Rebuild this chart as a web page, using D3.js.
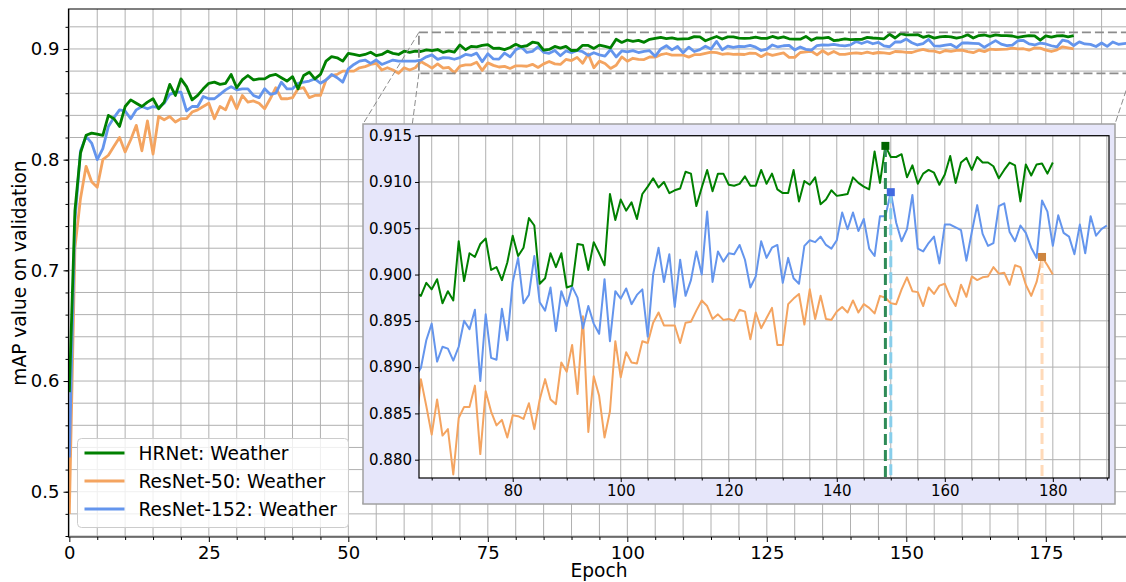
<!DOCTYPE html>
<meta charset="utf-8">
<title>mAP value on validation</title>
<style>
  body { margin: 0; background: #fff; }
  svg { display: block; font-family: "DejaVu Sans", sans-serif; }
</style>
<body>
<svg id="chart" width="1126" height="582"></svg>
<script src="https://d3js.org/d3.v7.min.js"></script>
<script>

// one value per epoch, starting at epoch 0
var hrnet = [
  0.590, 0.754, 0.806, 0.822, 0.824, 0.823, 0.822, 0.840, 0.837, 0.830,
  0.848, 0.854, 0.851, 0.848, 0.852, 0.855, 0.846, 0.852, 0.868, 0.858,
  0.873, 0.866, 0.854, 0.858, 0.864, 0.869, 0.870, 0.868, 0.869, 0.877,
  0.865, 0.872, 0.876, 0.872, 0.873, 0.873, 0.876, 0.877, 0.874, 0.871,
  0.875, 0.864, 0.876, 0.879, 0.873, 0.877, 0.889, 0.893, 0.892, 0.889,
  0.896, 0.895, 0.894, 0.895, 0.897, 0.894, 0.895, 0.898, 0.896, 0.895,
  0.898, 0.897, 0.898, 0.8977, 0.8991, 0.8984, 0.8995, 0.8969, 0.8982, 0.8972,
  0.9036, 0.8993, 0.9023, 0.9019, 0.9033, 0.9039, 0.9005, 0.9008, 0.8994, 0.9013,
  0.9042, 0.9020, 0.9029, 0.9061, 0.9053, 0.8990, 0.8996, 0.9023, 0.9008, 0.9023,
  0.8986, 0.8988, 0.9033, 0.9032, 0.9005, 0.9035, 0.9023, 0.9010, 0.9087, 0.9059,
  0.9081, 0.9069, 0.9078, 0.9060, 0.9087, 0.9095, 0.9104, 0.9094, 0.9100, 0.9088,
  0.9091, 0.9093, 0.9111, 0.9109, 0.9074, 0.9094, 0.9113, 0.9090, 0.9109, 0.9109,
  0.9097, 0.9096, 0.9098, 0.9106, 0.9096, 0.9096, 0.9113, 0.9098, 0.9109, 0.9092,
  0.9088, 0.9088, 0.9113, 0.9079, 0.9101, 0.9097, 0.9105, 0.9076, 0.9081, 0.9091,
  0.9085, 0.9086, 0.9087, 0.9105, 0.9099, 0.9095, 0.9092, 0.9133, 0.9099, 0.9139,
  0.9127, 0.9127, 0.9130, 0.9105, 0.9118, 0.9098, 0.9109, 0.9113, 0.9110, 0.9097,
  0.9108, 0.9128, 0.9099, 0.9121, 0.9126, 0.9113, 0.9127, 0.9121, 0.9121, 0.9117,
  0.9104, 0.9113, 0.9121, 0.9118, 0.9079, 0.9119, 0.9107, 0.9119, 0.9120, 0.9109,
  0.9121
];

var resnet50 = [
  0.480, 0.720, 0.765, 0.794, 0.780, 0.775, 0.800, 0.804, 0.812, 0.820,
  0.807, 0.818, 0.831, 0.808, 0.835, 0.805, 0.839, 0.836, 0.839, 0.834,
  0.837, 0.837, 0.843, 0.845, 0.848, 0.851, 0.837, 0.848, 0.845, 0.857,
  0.846, 0.858, 0.852, 0.853, 0.851, 0.846, 0.855, 0.865, 0.855, 0.855,
  0.856, 0.864, 0.865, 0.856, 0.858, 0.858, 0.872, 0.876, 0.877, 0.880,
  0.880, 0.880, 0.883, 0.884, 0.886, 0.887, 0.881, 0.883, 0.881, 0.878,
  0.883, 0.881, 0.883, 0.8887, 0.8858, 0.8827, 0.8865, 0.8826, 0.8833, 0.8784,
  0.8845, 0.8857, 0.8857, 0.8880, 0.8806, 0.8874, 0.8852, 0.8837, 0.8843, 0.8824,
  0.8848, 0.8847, 0.8844, 0.8861, 0.8833, 0.8865, 0.8887, 0.8865, 0.8860, 0.8905,
  0.8895, 0.8924, 0.8871, 0.8955, 0.8830, 0.8890, 0.8869, 0.8824, 0.8852, 0.8928,
  0.8889, 0.8916, 0.8905, 0.8904, 0.8928, 0.8926, 0.8948, 0.8959, 0.8945, 0.8945,
  0.8945, 0.8926, 0.8948, 0.8949, 0.8961, 0.8972, 0.8966, 0.8952, 0.8957, 0.8951,
  0.8952, 0.8950, 0.8962, 0.8960, 0.8930, 0.8959, 0.8942, 0.8953, 0.8964, 0.8924,
  0.8924, 0.8968, 0.8974, 0.8979, 0.8946, 0.8984, 0.8952, 0.8977, 0.8952, 0.8951,
  0.8960, 0.8965, 0.8959, 0.8972, 0.8959, 0.8968, 0.8964, 0.8958, 0.8977, 0.8975,
  0.8969, 0.8968, 0.8984, 0.8997, 0.8982, 0.8981, 0.8966, 0.8986, 0.8979, 0.8988,
  0.8990, 0.8976, 0.8966, 0.8989, 0.8976, 0.8998, 0.8994, 0.8997, 0.8998, 0.9008,
  0.9001, 0.9002, 0.8989, 0.9010, 0.9008, 0.8989, 0.8977, 0.8992, 0.9019, 0.9010,
  0.9000
];

var resnet152 = [
  0.531, 0.745, 0.808, 0.821, 0.815, 0.800, 0.810, 0.830, 0.838, 0.845,
  0.844, 0.837, 0.845, 0.848, 0.846, 0.848, 0.847, 0.851, 0.859, 0.861,
  0.861, 0.844, 0.848, 0.848, 0.857, 0.855, 0.855, 0.859, 0.863, 0.866,
  0.863, 0.864, 0.864, 0.858, 0.856, 0.864, 0.859, 0.860, 0.870, 0.864,
  0.864, 0.869, 0.870, 0.871, 0.873, 0.869, 0.872, 0.877, 0.874, 0.870,
  0.882, 0.886, 0.889, 0.890, 0.887, 0.890, 0.886, 0.888, 0.890, 0.889,
  0.889, 0.889, 0.889, 0.8899, 0.8929, 0.8947, 0.8906, 0.8922, 0.8920, 0.8907,
  0.8922, 0.8950, 0.8941, 0.8962, 0.8885, 0.8957, 0.8910, 0.8908, 0.8963, 0.8929,
  0.8992, 0.9018, 0.8969, 0.8978, 0.9020, 0.8970, 0.8961, 0.8986, 0.8939, 0.8982,
  0.8966, 0.8987, 0.8975, 0.8942, 0.8966, 0.8947, 0.8936, 0.8995, 0.8928, 0.8982,
  0.8974, 0.8985, 0.8968, 0.8978, 0.8984, 0.8933, 0.9000, 0.9029, 0.8992, 0.9022,
  0.8965, 0.9016, 0.8977, 0.8994, 0.9025, 0.9000, 0.9068, 0.8992, 0.9025, 0.9014,
  0.9023, 0.9022, 0.9032, 0.9016, 0.8986, 0.8998, 0.9036, 0.9018, 0.9029, 0.9032,
  0.8991, 0.9018, 0.8996, 0.8990, 0.9031, 0.9037, 0.9035, 0.9041, 0.9032, 0.9028,
  0.9037, 0.9067, 0.9049, 0.9067, 0.9047, 0.9060, 0.9028, 0.9020, 0.9063, 0.9063,
  0.9089, 0.9056, 0.9036, 0.9049, 0.9086, 0.9028, 0.9025, 0.9034, 0.9041, 0.9012,
  0.9054, 0.9054, 0.9051, 0.9048, 0.9015, 0.9046, 0.9075, 0.9044, 0.9031, 0.9034,
  0.9074, 0.9077, 0.9046, 0.9036, 0.9053, 0.9045, 0.9029, 0.9018, 0.9080, 0.9068,
  0.9031, 0.9064, 0.9045, 0.9041, 0.9022, 0.9054, 0.9023, 0.9063, 0.9042, 0.9049,
  0.9053
];

var seriesNames = ["HRNet: Weather", "ResNet-50: Weather", "ResNet-152: Weather"];
var seriesColors = ["green", "sandybrown", "cornflowerblue"];
var bestMarkerColors = ["darkgreen", "peru", "royalblue"];
var bestLineColors = ["seagreen", "peachpuff", "skyblue"];

var xTicks = [0, 25, 50, 75, 100, 125, 150, 175];
var yTicks = [0.5, 0.6, 0.7, 0.8, 0.9];
var insetXTicks = [80, 100, 120, 140, 160, 180];
var insetYTicks = [0.880, 0.885, 0.890, 0.895, 0.900, 0.905, 0.910, 0.915];
var insetXRange = [62.65, 190.4];
var insetYRange = [0.87802, 0.915];

var series = [hrnet, resnet50, resnet152].map(function (vals, k) {
  return { name: seriesNames[k], color: seriesColors[k], values: vals, k: k };
});

var svg = d3.select("#chart");
var font = "DejaVu Sans";
var labelSize = 18.6;

// ---------- main axes ----------
var x = d3.scaleLinear().domain([-0.15, 190]).range([68.5, 1129.5]);
var y = d3.scaleLinear().domain([0.4591, 0.9361]).range([537, 9]);

svg.append("clipPath").attr("id", "mainclip")
  .append("rect")
    .attr("x", x.range()[0]).attr("y", y.range()[1])
    .attr("width", x.range()[1] - x.range()[0])
    .attr("height", y.range()[0] - y.range()[1]);

var grid = svg.append("g").attr("clip-path", "url(#mainclip)");
grid.selectAll(".vg")
  .data(d3.range(0, 191, 5))
  .enter().append("line")
    .attr("x1", function (d) { return x(d); })
    .attr("x2", function (d) { return x(d); })
    .attr("y1", y.range()[0]).attr("y2", y.range()[1])
    .attr("stroke", "#b0b0b0").attr("stroke-width", 1);
grid.selectAll(".hg")
  .data(d3.range(0.46, 0.93, 0.02))
  .enter().append("line")
    .attr("y1", function (d) { return y(d); })
    .attr("y2", function (d) { return y(d); })
    .attr("x1", x.range()[0]).attr("x2", x.range()[1])
    .attr("stroke", "#b0b0b0").attr("stroke-width", 1);

var line = d3.line()
  .x(function (d, i) { return x(i); })
  .y(function (d) { return y(d); });

var lines = svg.append("g").attr("clip-path", "url(#mainclip)");
// draw order: orange, blue, green on top
[1, 2, 0].forEach(function (k) {
  lines.append("path")
    .attr("d", line(series[k].values))
    .attr("fill", "none")
    .attr("stroke", series[k].color)
    .attr("stroke-width", 2.8)
    .attr("stroke-linejoin", "round");
});

// ---------- inset geometry ----------
var ix = d3.scaleLinear().domain(insetXRange).range([419, 1109]);
var iy = d3.scaleLinear().domain(insetYRange).range([478, 135.7]);
var box = { x0: 363, y0: 124, x1: 1115, y1: 504 };

// zoom rectangle on main plot
var rx0 = x(insetXRange[0]), rx1 = x(insetXRange[1]);
var ry0 = y(insetYRange[1]), ry1 = y(insetYRange[0]);
svg.append("rect")
  .attr("x", rx0).attr("y", ry0)
  .attr("width", rx1 - rx0).attr("height", ry1 - ry0)
  .attr("fill", "none")
  .attr("stroke", "#8c8c8c").attr("stroke-width", 1.8)
  .attr("stroke-dasharray", "9,4");

// connectors
var conns = [
  [rx0, ry0, box.x0, box.y0],
  [rx0, ry1, box.x0, box.y1],
  [rx1, ry1, box.x1, box.y0]
];
svg.selectAll(".conn")
  .data(conns)
  .enter().append("line")
    .attr("x1", function (d) { return d[0]; })
    .attr("y1", function (d) { return d[1]; })
    .attr("x2", function (d) { return d[2]; })
    .attr("y2", function (d) { return d[3]; })
    .attr("stroke", "#8c8c8c").attr("stroke-width", 1)
    .attr("stroke-dasharray", "6,3");

// main ticks
function styleAxis(g, fs) {
  g.select(".domain").remove();
  g.selectAll(".tick line").attr("stroke", "#000").attr("stroke-width", 1);
  g.selectAll(".tick text")
    .attr("fill", "#000")
    .style("font-family", font)
    .style("font-size", fs + "px");
}

svg.append("g")
  .attr("transform", "translate(0," + y.range()[0] + ")")
  .call(d3.axisBottom(x).tickValues(xTicks).tickSize(5).tickPadding(4).tickFormat(d3.format("d")))
  .call(styleAxis, 18);
svg.append("g")
  .attr("transform", "translate(0," + y.range()[0] + ")")
  .call(d3.axisBottom(x).tickValues(d3.range(0, 191, 5).filter(function (d) { return d % 25; }))
    .tickSize(3).tickFormat(""))
  .call(styleAxis, 18);

svg.append("g")
  .attr("transform", "translate(" + x.range()[0] + ",0)")
  .call(d3.axisLeft(y).tickValues(yTicks).tickSize(5).tickPadding(4).tickFormat(d3.format(".1f")))
  .call(styleAxis, 18);
svg.append("g")
  .attr("transform", "translate(" + x.range()[0] + ",0)")
  .call(d3.axisLeft(y).tickValues(d3.range(0.46, 0.93, 0.02)).tickSize(3).tickFormat(""))
  .call(styleAxis, 18);

// spines
svg.append("path")
  .attr("d", "M" + x.range()[1] + "," + y.range()[1] + "H" + x.range()[0] + "V" + y.range()[0] + "H" + x.range()[1])
  .attr("fill", "none").attr("stroke", "#000").attr("stroke-width", 1.2);

svg.append("text")
  .attr("transform", "translate(19," + (y.range()[0] + y.range()[1]) / 2 + ") rotate(-90)")
  .attr("text-anchor", "middle").attr("dominant-baseline", "central")
  .style("font-size", labelSize + "px")
  .text("mAP value on validation");

svg.append("text")
  .attr("x", (x.range()[0] + x.range()[1]) / 2).attr("y", 577)
  .attr("text-anchor", "middle")
  .style("font-size", labelSize + "px")
  .text("Epoch");

// legend
var legend = svg.append("g").attr("transform", "translate(77.5,438.5)");
legend.append("rect")
  .attr("width", 271).attr("height", 89).attr("rx", 4)
  .attr("fill", "#fff").attr("fill-opacity", 0.8)
  .attr("stroke", "#cccccc").attr("stroke-width", 1);
series.forEach(function (s, i) {
  var ly = 14.5 + i * 28;
  legend.append("line")
    .attr("x1", 7).attr("x2", 47).attr("y1", ly).attr("y2", ly)
    .attr("stroke", s.color).attr("stroke-width", 2.8);
  legend.append("text")
    .attr("x", 61).attr("y", ly)
    .attr("dominant-baseline", "central")
    .style("font-size", labelSize + "px")
    .text(s.name);
});

// ---------- inset ----------
svg.append("rect")
  .attr("x", box.x0).attr("y", box.y0)
  .attr("width", box.x1 - box.x0).attr("height", box.y1 - box.y0)
  .attr("fill", "lavender").attr("stroke", "#a0a0a0").attr("stroke-width", 1.5);

svg.append("rect")
  .attr("x", ix.range()[0]).attr("y", iy.range()[1])
  .attr("width", ix.range()[1] - ix.range()[0])
  .attr("height", iy.range()[0] - iy.range()[1])
  .attr("fill", "#fff");

svg.append("clipPath").attr("id", "insetclip")
  .append("rect")
    .attr("x", ix.range()[0]).attr("y", iy.range()[1])
    .attr("width", ix.range()[1] - ix.range()[0])
    .attr("height", iy.range()[0] - iy.range()[1]);

var ig = svg.append("g").attr("clip-path", "url(#insetclip)");
ig.selectAll(".ivg")
  .data(d3.range(65, 191, 5))
  .enter().append("line")
    .attr("x1", function (d) { return ix(d); })
    .attr("x2", function (d) { return ix(d); })
    .attr("y1", iy.range()[0]).attr("y2", iy.range()[1])
    .attr("stroke", "#b0b0b0").attr("stroke-width", 1);
ig.selectAll(".ihg")
  .data(insetYTicks)
  .enter().append("line")
    .attr("y1", function (d) { return iy(d); })
    .attr("y2", function (d) { return iy(d); })
    .attr("x1", ix.range()[0]).attr("x2", ix.range()[1])
    .attr("stroke", "#b0b0b0").attr("stroke-width", 1);

var iline = d3.line()
  .x(function (d, i) { return ix(i); })
  .y(function (d) { return iy(d); });

[1, 2, 0].forEach(function (k) {
  ig.append("path")
    .attr("d", iline(series[k].values))
    .attr("fill", "none")
    .attr("stroke", series[k].color)
    .attr("stroke-width", 2)
    .attr("stroke-linejoin", "round");
});

// best epoch per series
var best = series.map(function (s) {
  var i = d3.maxIndex(s.values);
  return { epoch: i, value: s.values[i], k: s.k };
});

ig.selectAll(".bestline")
  .data(best)
  .enter().append("line")
    .attr("x1", function (d) { return ix(d.epoch); })
    .attr("x2", function (d) { return ix(d.epoch); })
    .attr("y1", function (d) { return iy(d.value); })
    .attr("y2", iy.range()[0])
    .attr("stroke", function (d) { return bestLineColors[d.k]; })
    .attr("stroke-width", 3)
    .attr("stroke-dasharray", "11,5");

ig.selectAll(".bestmark")
  .data(best)
  .enter().append("rect")
    .attr("x", function (d) { return ix(d.epoch) - 4; })
    .attr("y", function (d) { return iy(d.value) - 4; })
    .attr("width", 8).attr("height", 8)
    .attr("fill", function (d) { return bestMarkerColors[d.k]; });

svg.append("g")
  .attr("transform", "translate(0," + iy.range()[0] + ")")
  .call(d3.axisBottom(ix).tickValues(insetXTicks).tickSize(4).tickPadding(3).tickFormat(d3.format("d")))
  .call(styleAxis, 15);
svg.append("g")
  .attr("transform", "translate(0," + iy.range()[0] + ")")
  .call(d3.axisBottom(ix).tickValues(d3.range(65, 191, 5).filter(function (d) { return d % 20; }))
    .tickSize(2.5).tickFormat(""))
  .call(styleAxis, 15);
svg.append("g")
  .attr("transform", "translate(" + ix.range()[0] + ",0)")
  .call(d3.axisLeft(iy).tickValues(insetYTicks).tickSize(4).tickPadding(3).tickFormat(d3.format(".3f")))
  .call(styleAxis, 15);

svg.append("rect")
  .attr("x", ix.range()[0]).attr("y", iy.range()[1])
  .attr("width", ix.range()[1] - ix.range()[0])
  .attr("height", iy.range()[0] - iy.range()[1])
  .attr("fill", "none").attr("stroke", "#000").attr("stroke-width", 1.2);

</script>
</body>
